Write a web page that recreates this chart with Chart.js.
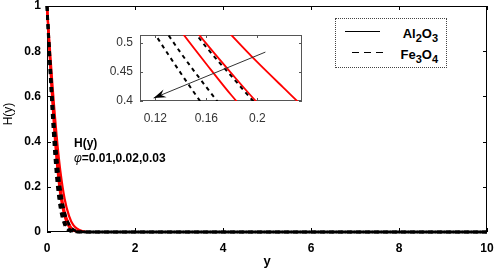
<!DOCTYPE html>
<html>
<head>
<meta charset="utf-8">
<script src="https://cdn.jsdelivr.net/npm/chart.js@4.4.1/dist/chart.umd.min.js"></script>
<style>
  body { margin: 0; background: #fff; }
  #wrap { position: relative; width: 498px; height: 272px; font-family: "Liberation Sans", Arial, sans-serif; color: #000; }
  canvas { position: absolute; }
  #main { left: 0; top: 0; }
  #inset { left: 100px; top: 28px; }
  .abs { position: absolute; white-space: nowrap; }
  #ytitle { left: 8px; top: 114px; font-size: 12px; transform: translate(-50%, -50%) rotate(-90deg); }
  #xtitle { left: 267px; top: 253px; font-size: 13px; font-weight: bold; transform: translateX(-50%); }
  #note { left: 74px; top: 136px; font-size: 12px; font-weight: bold; line-height: 15px; }
  #note i { font-weight: normal; }
  #legend { left: 335px; top: 18px; width: 110px; height: 48px; border: 1px dotted #444; background: #fff; }
  .sample { position: absolute; height: 1px; }
  .lbl { position: absolute; right: 8px; font-size: 13px; font-weight: bold; }
  .lbl sub { font-size: 11px; vertical-align: -4px; line-height: 0; }
</style>
</head>
<body>
<div id="wrap">
  <canvas id="main" width="498" height="272"></canvas>
  <canvas id="inset" width="210" height="100"></canvas>
  <div class="abs" id="ytitle">H(y)</div>
  <div class="abs" id="xtitle">y</div>
  <div class="abs" id="note">H(y)<br><i>&phi;</i>=0.01,0.02,0.03</div>
  <div class="abs" id="legend">
    <div class="sample" style="left:9px; top:12px; width:35px; background:#000;"></div>
    <div class="sample" style="left:16px; top:33px; width:31px; background:repeating-linear-gradient(90deg, #000 0 7px, transparent 7px 12px);"></div>
    <div class="lbl" style="top:7px;">Al<sub>2</sub>O<sub>3</sub></div>
    <div class="lbl" style="top:28px;">Fe<sub>3</sub>O<sub>4</sub></div>
  </div>
</div>
<script>
// distance y and profiles H(y) (phi = 0.01, 0.02, 0.03)
const yPos = [0, 0.04, 0.08, 0.12, 0.14, 0.16, 0.18, 0.2, 0.22, 0.24, 0.3, 0.4, 0.5, 0.6, 0.8, 1, 10];
const alH1 = [1, 0.854, 0.714, 0.582, 0.521, 0.464, 0.409, 0.360, 0.313, 0.271, 0.169, 0.069, 0.022, 0.006, 0, 0, 0];
const alH2 = [1, 0.866, 0.735, 0.613, 0.554, 0.499, 0.447, 0.397, 0.353, 0.310, 0.204, 0.090, 0.036, 0.011, 0.001, 0, 0];
const alH3 = [1, 0.884, 0.771, 0.662, 0.611, 0.561, 0.513, 0.467, 0.424, 0.382, 0.275, 0.147, 0.071, 0.030, 0.004, 0, 0];
const feH1 = [1, 0.828, 0.663, 0.515, 0.448, 0.385, 0.328, 0.278, 0.233, 0.193, 0.105, 0.031, 0.007, 0.001, 0, 0, 0];
const feH2 = [1, 0.841, 0.688, 0.548, 0.483, 0.424, 0.368, 0.316, 0.271, 0.230, 0.136, 0.046, 0.013, 0.003, 0, 0, 0];
const feH3 = [1, 0.864, 0.733, 0.608, 0.550, 0.493, 0.442, 0.392, 0.347, 0.305, 0.199, 0.087, 0.034, 0.010, 0.001, 0, 0];

const mainXTicks = [0, 2, 4, 6, 8, 10];
const mainYTicks = [0, 0.2, 0.4, 0.6, 0.8, 1];
const insetXTicks = [0.12, 0.16, 0.2];
const insetYTicks = [0.4, 0.45, 0.5];

const FONT = '"Liberation Sans", Arial, sans-serif';

function pts(h) {
    return yPos.map((v, i) => ({ x: v, y: h[i] }));
}

// dashed first so they sit on top of the red lines
function makeDatasets(redW, dashW, dash) {
    const fe = [feH1, feH2, feH3].map(h => ({
        data: pts(h), borderColor: '#000', borderWidth: dashW, borderDash: dash,
        pointRadius: 0, cubicInterpolationMode: 'monotone', fill: false,
    }));
    const al = [alH1, alH2, alH3].map(h => ({
        data: pts(h), borderColor: '#ff0000', borderWidth: redW,
        pointRadius: 0, cubicInterpolationMode: 'monotone', fill: false,
    }));
    return [...fe, ...al];
}

// box round the axes with inward tick marks (MATLAB style)
const frame = {
    id: 'frame',
    beforeDatasetsDraw(chart, args, opts) {
        const { ctx, chartArea: a, scales: { x, y } } = chart;
        ctx.save();
        if (opts.fill) {
            ctx.fillStyle = opts.fill;
            ctx.fillRect(a.left, a.top, a.width, a.height);
        }
        ctx.strokeStyle = opts.color;
        ctx.lineWidth = 1;
        ctx.strokeRect(a.left + 0.5, a.top + 0.5, a.width - 1, a.height - 1);
        ctx.beginPath();
        x.ticks.forEach(t => {
            const px = Math.round(x.getPixelForValue(t.value)) + 0.5;
            ctx.moveTo(px, a.bottom); ctx.lineTo(px, a.bottom - opts.len);
            ctx.moveTo(px, a.top); ctx.lineTo(px, a.top + opts.len);
        });
        y.ticks.forEach(t => {
            const py = Math.round(y.getPixelForValue(t.value)) + 0.5;
            ctx.moveTo(a.left, py); ctx.lineTo(a.left + opts.len, py);
            ctx.moveTo(a.right, py); ctx.lineTo(a.right - opts.len, py);
        });
        ctx.stroke();
        ctx.restore();
    }
};

// arrow in the inset, given in data units
const arrow = {
    id: 'arrow',
    afterDatasetsDraw(chart, args, opts) {
        if (!opts.from) return;
        const { ctx, scales: { x, y } } = chart;
        const x0 = x.getPixelForValue(opts.from[0]), y0 = y.getPixelForValue(opts.from[1]);
        const x1 = x.getPixelForValue(opts.to[0]), y1 = y.getPixelForValue(opts.to[1]);
        const ang = Math.atan2(y1 - y0, x1 - x0);
        ctx.save();
        ctx.strokeStyle = '#333';
        ctx.lineWidth = 1;
        ctx.beginPath();
        ctx.moveTo(x0, y0); ctx.lineTo(x1, y1);
        ctx.stroke();
        ctx.fillStyle = '#000';
        ctx.beginPath();
        ctx.moveTo(x1, y1);
        ctx.lineTo(x1 - 13 * Math.cos(ang - 0.32), y1 - 13 * Math.sin(ang - 0.32));
        ctx.lineTo(x1 - 8 * Math.cos(ang), y1 - 8 * Math.sin(ang));
        ctx.lineTo(x1 - 13 * Math.cos(ang + 0.32), y1 - 13 * Math.sin(ang + 0.32));
        ctx.closePath();
        ctx.fill();
        ctx.restore();
    }
};

function fixTicks(list) {
    return s => { s.ticks = list.map(v => ({ value: v })); };
}
const fmt = v => String(Math.round(v * 100) / 100);

new Chart(document.getElementById('main'), {
    type: 'line',
    data: { datasets: makeDatasets(2.2, 2.8, [5, 4]).map(d => ({ ...d, clip: 5 })) },
    plugins: [frame],
    options: {
        responsive: false,
        animation: false,
        events: [],
        layout: { padding: { top: 6, right: 11, left: 0, bottom: 0 } },
        plugins: {
            legend: { display: false },
            tooltip: { enabled: false },
            frame: { color: '#000', len: 4 },
        },
        scales: {
            x: {
                type: 'linear', min: 0, max: 10,
                afterBuildTicks: fixTicks(mainXTicks),
                afterFit: s => { s.height = 40; s.paddingLeft = 0; s.paddingRight = 0; },
                grid: { display: false, drawTicks: false },
                border: { display: false },
                ticks: { color: '#000', padding: 9, maxRotation: 0, callback: fmt, font: { family: FONT, size: 12, weight: 'bold' } },
            },
            y: {
                type: 'linear', min: 0, max: 1,
                afterBuildTicks: fixTicks(mainYTicks),
                afterFit: s => { s.width = 47; s.paddingTop = 0; s.paddingBottom = 0; },
                grid: { display: false, drawTicks: false },
                border: { display: false },
                ticks: { color: '#000', padding: 6, callback: fmt, font: { family: FONT, size: 12, weight: 'bold' } },
            }
        }
    }
});

new Chart(document.getElementById('inset'), {
    type: 'line',
    data: { datasets: makeDatasets(1.8, 2, [4, 4]) },
    plugins: [frame, arrow],
    options: {
        responsive: false,
        animation: false,
        events: [],
        layout: { padding: { top: 7, right: 8, left: 0, bottom: 0 } },
        plugins: {
            legend: { display: false },
            tooltip: { enabled: false },
            frame: { color: '#555', len: 3, fill: '#fff' },
            arrow: { from: [0.2063, 0.4845], to: [0.1187, 0.405] },
        },
        scales: {
            x: {
                type: 'linear', min: 0.108, max: 0.235,
                afterBuildTicks: fixTicks(insetXTicks),
                afterFit: s => { s.height = 27; s.paddingLeft = 0; s.paddingRight = 0; },
                grid: { display: false, drawTicks: false },
                border: { display: false },
                ticks: { color: '#333', padding: 10, maxRotation: 0, callback: fmt, font: { family: FONT, size: 12 } },
            },
            y: {
                type: 'linear', min: 0.4, max: 0.514,
                afterBuildTicks: fixTicks(insetYTicks),
                afterFit: s => { s.width = 40; s.paddingTop = 0; s.paddingBottom = 0; },
                grid: { display: false, drawTicks: false },
                border: { display: false },
                ticks: { color: '#333', padding: 7, callback: fmt, font: { family: FONT, size: 12 } },
            }
        }
    }
});
</script>
</body>
</html>
